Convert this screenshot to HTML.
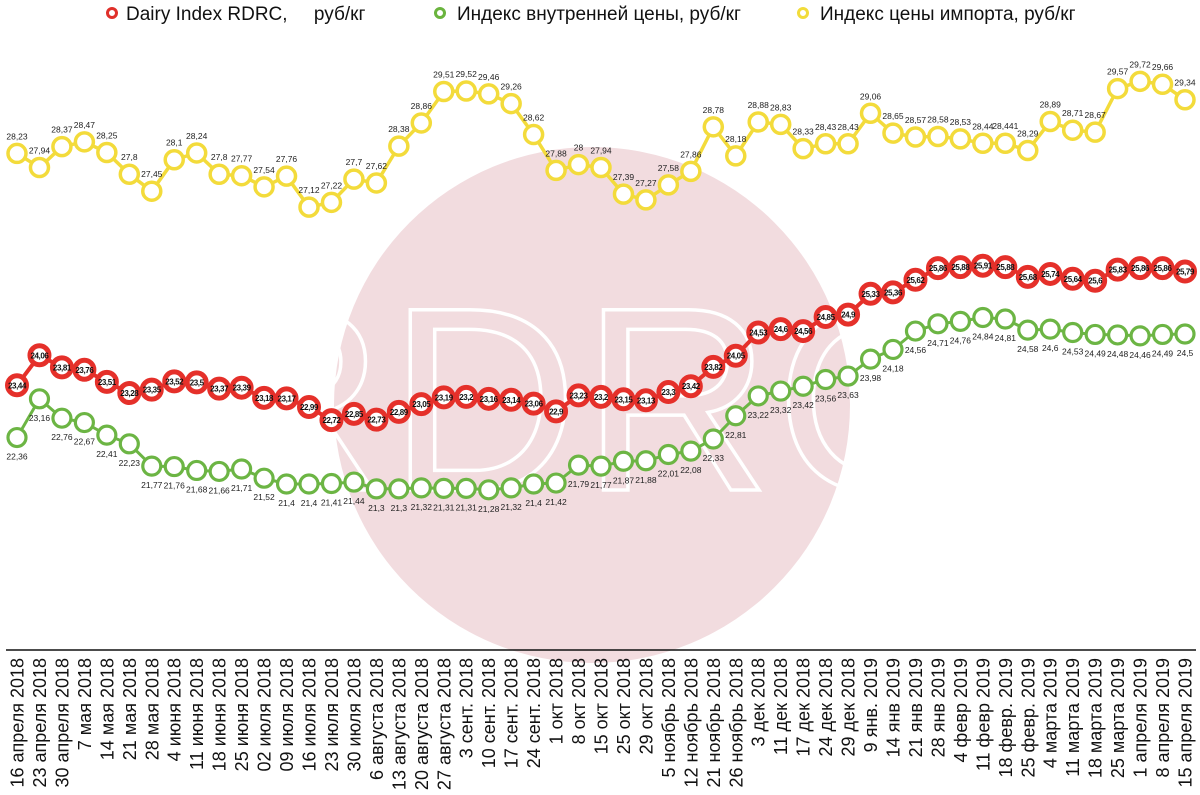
<!DOCTYPE html>
<html><head><meta charset="utf-8">
<style>
html,body{margin:0;padding:0;background:#fff;}
svg{display:block;font-family:"Liberation Sans",Arial,sans-serif;}
</style></head>
<body>
<svg id="chart" width="1200" height="795" viewBox="0 0 1200 795" xmlns="http://www.w3.org/2000/svg">
  <g>
    <circle cx="592" cy="405" r="258" fill="#f2dcdf"/>
    <text x="582" y="490" text-anchor="middle" font-size="262" fill="none" stroke="#ffffff" stroke-width="3.5" letter-spacing="4">RDRC</text>
  </g>
  <g>
    <g>
      <circle cx="112" cy="13" r="4.5" fill="#fff" stroke="#e0302a" stroke-width="3"/>
      <text x="126" y="20" font-size="19" fill="#111">Dairy Index RDRC,&#160;&#160;&#160;&#160; руб/кг</text>
    </g>
    <g>
      <circle cx="440" cy="13" r="4.5" fill="#fff" stroke="#6ab43e" stroke-width="3"/>
      <text x="457" y="20" font-size="19" fill="#111">Индекс внутренней цены, руб/кг</text>
    </g>
    <g>
      <circle cx="803" cy="13" r="4.5" fill="#fff" stroke="#f2dc3a" stroke-width="3"/>
      <text x="820" y="20" font-size="19" fill="#111">Индекс цены импорта, руб/кг</text>
    </g>
  </g>
  <line x1="6" y1="650" x2="1196" y2="650" stroke="#111" stroke-width="1.5"/>
  <g id="xlabels"></g>
  <g id="series"></g>
</svg>
<script>
const categories = ["16 апреля 2018","23 апреля 2018","30 апреля 2018","7 мая 2018","14 мая 2018","21 мая 2018","28 мая 2018","4 июня 2018","11 июня 2018","18 июня 2018","25 июня 2018","02 июля 2018","09 июля 2018","16 июля 2018","23 июля 2018","30 июля 2018","6 августа 2018","13 августа 2018","20 августа 2018","27 августа 2018","3 сент. 2018","10 сент. 2018","17 сент. 2018","24 сент. 2018","1 окт 2018","8 окт 2018","15 окт 2018","25 окт 2018","29 окт 2018","5 ноябрь 2018","12 ноябрь 2018","21 ноябрь 2018","26 ноябрь 2018","3 дек 2018","11 дек 2018","17 дек 2018","24 дек 2018","29 дек 2018","9 янв. 2019","14 янв 2019","21 янв 2019","28 янв 2019","4 февр 2019","11 февр 2019","18 февр. 2019","25 февр. 2019","4 марта 2019","11 марта 2019","18 марта 2019","25 марта 2019","1 апреля 2019","8 апреля 2019","15 апреля 2019"];
const importValues = [28.23,27.94,28.37,28.47,28.25,27.8,27.45,28.1,28.24,27.8,27.77,27.54,27.76,27.12,27.22,27.7,27.62,28.38,28.86,29.51,29.52,29.46,29.26,28.62,27.88,28,27.94,27.39,27.27,27.58,27.86,28.78,28.18,28.88,28.83,28.33,28.43,28.43,29.06,28.65,28.57,28.58,28.53,28.44,28.441,28.29,28.89,28.71,28.67,29.57,29.72,29.66,29.34];
const dairyValues = [23.44,24.06,23.81,23.76,23.51,23.28,23.35,23.52,23.5,23.37,23.39,23.18,23.17,22.99,22.72,22.85,22.73,22.89,23.05,23.19,23.2,23.16,23.14,23.06,22.9,23.23,23.2,23.15,23.13,23.3,23.42,23.82,24.05,24.53,24.6,24.56,24.85,24.9,25.33,25.36,25.62,25.86,25.88,25.91,25.88,25.68,25.74,25.64,25.6,25.83,25.86,25.86,25.79];
const domesticValues = [22.36,23.16,22.76,22.67,22.41,22.23,21.77,21.76,21.68,21.66,21.71,21.52,21.4,21.4,21.41,21.44,21.3,21.3,21.32,21.31,21.31,21.28,21.32,21.4,21.42,21.79,21.77,21.87,21.88,22.01,22.08,22.33,22.81,23.22,23.32,23.42,23.56,23.63,23.98,24.18,24.56,24.71,24.76,24.84,24.81,24.58,24.6,24.53,24.49,24.48,24.46,24.49,24.5];

const NS = "http://www.w3.org/2000/svg";
function xPos(i){ return 17 + i * (1185 - 17) / (categories.length - 1); }
function yPos(v){ return 91 + (29.52 - v) * 48.4; }
function fmt(v){ return String(v).replace('.', ','); }
function mk(tag, attrs){ const e = document.createElementNS(NS, tag); for (const k in attrs) e.setAttribute(k, attrs[k]); return e; }

const xl = document.getElementById('xlabels');
categories.forEach((c, i) => {
  const t = mk('text', {transform: `translate(${xPos(i)+6.5},658) rotate(-90)`, 'text-anchor': 'end', 'font-size': '18', fill: '#111'});
  
  
  t.textContent = c;
  xl.appendChild(t);
});

const sg = document.getElementById('series');
function drawSeries(vals, color, sw, r, lw, labelMode, name){
  const g = mk('g', {});
  
  
  const pts = vals.map((v, i) => xPos(i).toFixed(1) + ',' + yPos(v).toFixed(1)).join(' ');
  const pl = mk('polyline', {points: pts, fill: 'none', stroke: color, 'stroke-width': lw, 'stroke-linejoin': 'round'});
  
  
  g.appendChild(pl);
  vals.forEach((v, i) => {
    const x = xPos(i), y = yPos(v);
    const c = mk('circle', {cx: x, cy: y, r: r, fill: '#fff', stroke: color, 'stroke-width': sw});
    
    
    g.appendChild(c);
    let t;
    if (labelMode === 'above') t = mk('text', {x: x, y: y - 14, 'text-anchor': 'middle', 'font-size': '8.5', fill: '#222'});
    else if (labelMode === 'below') t = mk('text', {x: x, y: y + 22, 'text-anchor': 'middle', 'font-size': '8.5', fill: '#222'});
    else t = mk('text', {x: x, y: y + 3, 'text-anchor': 'middle', 'font-size': '8', 'font-weight': 'bold', fill: '#111', 'letter-spacing': '-0.4'});
    
    
    t.textContent = fmt(v);
    g.appendChild(t);
  });
  sg.appendChild(g);
}
drawSeries(importValues, '#f3db3b', 3.5, 9, 3.5, 'above', 'import-price-series');
drawSeries(domesticValues, '#6cb544', 3.2, 9, 3, 'below', 'domestic-price-series');
drawSeries(dairyValues, '#e5302a', 5, 9.5, 4, 'inside', 'dairy-index-series');
</script>
</body></html>
